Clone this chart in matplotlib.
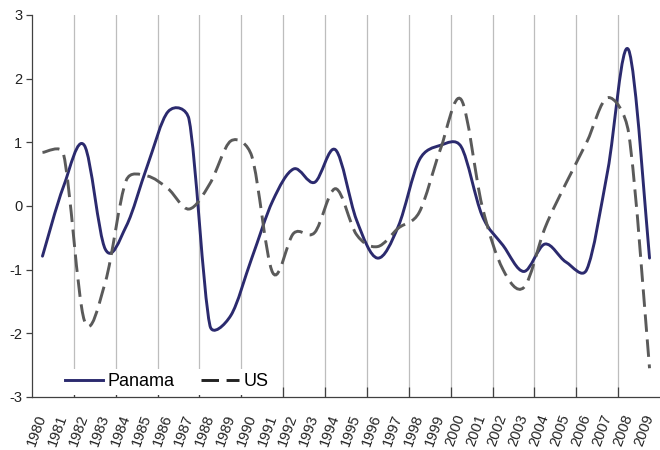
import matplotlib
matplotlib.use("Agg")
import matplotlib.pyplot as plt
from matplotlib.path import Path
from matplotlib.patches import PathPatch
from matplotlib.lines import Line2D
import numpy as np

plt.rcParams['font.family'] = ['Liberation Sans', 'DejaVu Sans']
plt.rcParams['axes.unicode_minus'] = False

years = [str(y) for y in range(1980, 2010)]
panama = [-0.79, 0.30, 0.95, -0.68, -0.32, 0.62, 1.48, 1.36, -1.88, -1.72,
          -0.82, 0.08, 0.58, 0.37, 0.88, -0.22, -0.82, -0.32, 0.72, 0.95,
          0.93, -0.15, -0.62, -1.03, -0.60, -0.88, -1.00, 0.55, 2.45, -0.82]
us = [0.84, 0.82, -1.80, -1.20, 0.40, 0.47, 0.27, -0.05, 0.35, 1.02,
      0.78, -1.05, -0.43, -0.42, 0.27, -0.45, -0.64, -0.35, -0.10, 0.88,
      1.67, 0.00, -1.00, -1.28, -0.35, 0.35, 1.00, 1.70, 1.15, -2.55]

PANAMA_COLOR = '#2b2a6e'
US_COLOR = '#5a5a5a'
US_DASH = (0, (6, 2.6))

# screen scale (px per x unit / px per y unit) used for the smoothing
SX, SY = 21.0, 63.7


def smooth_path(ys, limit=0.5):
    # Excel-like smoothed line: catmull-rom handles, clamped to the segment length
    pts = np.column_stack([np.arange(len(ys)) * SX, np.asarray(ys) * SY])
    n = len(pts)
    verts = [pts[0]]
    codes = [Path.MOVETO]

    def handle(i, seg):
        h = (pts[min(i + 1, n - 1)] - pts[max(i - 1, 0)]) / 6.0
        L = np.hypot(*h)
        if L > limit * seg:
            h = h * limit * seg / L
        return h

    for i in range(n - 1):
        seg = np.hypot(*(pts[i + 1] - pts[i]))
        c1 = pts[i] + handle(i, seg)
        c2 = pts[i + 1] - handle(i + 1, seg)
        verts += [c1, c2, pts[i + 1]]
        codes += [Path.CURVE4] * 3
    verts = np.array(verts) / [SX, SY]
    return Path(verts, codes)


fig = plt.figure(figsize=(6.6, 4.5), dpi=100)
ax = fig.add_axes([0.0485, 0.118, 0.9515, 0.849])

# vertical gridlines every second category boundary
grid_x = np.arange(1.5, 29, 2)
for gx in grid_x:
    ax.axvline(gx, color='#bdbdbd', lw=0.9, zorder=1)

ax.add_patch(PathPatch(smooth_path(panama), fill=False, edgecolor=PANAMA_COLOR,
                       lw=2.1, zorder=3, capstyle='round', joinstyle='round'))
ax.add_patch(PathPatch(smooth_path(us), fill=False, edgecolor=US_COLOR,
                       lw=2.1, linestyle=US_DASH, zorder=3, capstyle='butt'))

ax.set_xlim(-0.5, 29.5)
ax.set_ylim(-3, 3)
ax.set_yticks(range(-3, 4))
ax.set_xticks(grid_x, minor=False)
ax.set_xticklabels([])
ax.set_xticks(np.arange(30), minor=True)
ax.set_xticklabels(years, minor=True, rotation=70, ha='right', va='center',
                   rotation_mode='anchor', fontsize=10.5, color='#222222')
ax.tick_params(axis='x', which='major', direction='in', length=7, width=0.9,
               color='#404040')
ax.tick_params(axis='x', which='minor', length=0, pad=13)
ax.tick_params(axis='y', direction='out', length=4, width=0.9, color='#404040',
               labelsize=10.5, labelcolor='#222222', pad=3)

for s in ['top', 'right']:
    ax.spines[s].set_visible(False)
for s in ['left', 'bottom']:
    ax.spines[s].set_color('#404040')
    ax.spines[s].set_linewidth(0.9)

handles = [Line2D([], [], color=PANAMA_COLOR, lw=2.1),
           Line2D([], [], color='#222222', lw=2.1, linestyle=US_DASH)]
leg = ax.legend(handles, ['Panama', 'US'], loc='lower left',
                bbox_to_anchor=(0.045, 0.005), ncol=2, frameon=True,
                fontsize=13, handlelength=2.1, handletextpad=0.25,
                columnspacing=1.5, borderpad=0.25, borderaxespad=0)
leg.get_frame().set_facecolor('white')
leg.get_frame().set_edgecolor('none')
leg.get_frame().set_alpha(1)
leg.set_zorder(2)

fig.savefig('out.png', dpi=100)
